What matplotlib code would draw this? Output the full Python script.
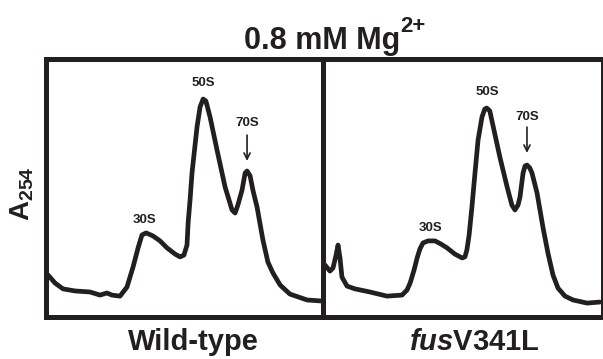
import matplotlib
matplotlib.use("Agg")
import matplotlib.pyplot as plt

plt.rcParams['font.family'] = ['Liberation Sans', 'DejaVu Sans']
plt.rcParams['mathtext.fontset'] = 'custom'
plt.rcParams['mathtext.rm'] = 'Liberation Sans:bold'
plt.rcParams['mathtext.bf'] = 'Liberation Sans:bold'
plt.rcParams['mathtext.it'] = 'Liberation Sans:bold:italic'

ink = '#231f20'

# gradient position (% of gradient) and A254 (arbitrary units)
wt_x = [0.9, 3.4, 6.3, 10.6, 16.0, 19.6, 22.1, 23.9, 26.8, 29.3, 31.5, 33.3, 34.7,
        36.2, 38.7, 41.2, 43.7, 46.6, 48.4, 49.8, 50.9, 51.3, 52.0, 52.7, 53.8,
        54.5, 55.6, 56.7, 57.7, 59.2, 61.7, 64.6, 67.1, 68.2, 69.2, 70.7, 71.8,
        72.5, 73.6, 74.6, 76.1, 78.2, 80.0, 81.8, 84.4, 87.9, 94.1, 99.5]
wt_y = [16.1, 13.0, 10.7, 9.9, 9.5, 8.3, 9.1, 8.3, 7.9, 11.4, 19.2, 26.6, 31.6,
        32.4, 31.2, 29.3, 26.6, 24.2, 23.1, 23.8, 27.7, 36.2, 45.2, 55.6, 66.5,
        73.4, 81.2, 84.3, 83.5, 77.3, 64.5, 50.2, 41.3, 40.1, 43.2, 49.0, 55.6,
        56.4, 54.5, 49.0, 42.4, 29.7, 21.1, 16.9, 12.2, 8.7, 6.4, 6.0]

mut_x = [0.5, 2.3, 3.4, 4.5, 5.2, 5.9, 6.6, 8.4, 11.3, 16.6, 22.7, 28.1, 29.9,
         31.0, 32.4, 33.5, 34.5, 35.6, 37.4, 39.9, 42.0, 44.2, 47.0, 49.6, 50.6,
         51.3, 52.1, 53.1, 54.2, 55.3, 56.7, 57.7, 58.4, 59.5, 60.6, 63.1, 65.7,
         67.4, 68.5, 69.6, 70.3, 71.4, 72.1, 72.8, 73.8, 74.6, 76.4, 78.5, 80.3,
         82.1, 83.9, 86.4, 89.3, 94.3, 98.9]
mut_y = [20.0, 17.6, 18.8, 23.8, 27.7, 22.7, 15.3, 11.8, 10.7, 9.5, 7.9, 8.3, 10.3,
         13.0, 18.0, 22.7, 26.2, 28.5, 29.3, 29.3, 28.1, 26.6, 24.2, 22.7, 23.1,
         25.8, 31.6, 42.4, 55.6, 68.4, 77.3, 80.4, 80.8, 79.7, 74.2, 61.8, 50.2,
         43.2, 41.3, 43.2, 46.3, 55.6, 58.3, 58.7, 57.6, 55.6, 47.9, 34.7, 24.6,
         16.1, 11.0, 7.9, 6.4, 5.2, 5.6]

peak_names = ['30S', '50S', '70S']
wt_label_pos = [(35.5, 37.4), (56.6, 90.5), (72.5, 75.0)]
mut_label_pos = [(38.1, 34.3), (58.5, 87.0), (72.8, 77.3)]
wt_arrow = (72.5, 70.3, 60.3)
mut_arrow = (72.8, 73.4, 63.4)

fig = plt.figure(figsize=(6.03, 3.59), dpi=100)
ax1 = fig.add_axes([45.5 / 603, 42.5 / 359, 278 / 603, 258 / 359])
ax2 = fig.add_axes([323.5 / 603, 42.5 / 359, 279.5 / 603, 258 / 359])

panels = [(ax1, wt_x, wt_y, wt_label_pos, wt_arrow),
          (ax2, mut_x, mut_y, mut_label_pos, mut_arrow)]
for ax, xs, ys, lpos, arr in panels:
    ax.plot(xs, ys, color=ink, lw=3.4, solid_joinstyle='round', solid_capstyle='round')
    ax.set_xlim(0, 100)
    ax.set_ylim(0, 100)
    ax.set_xticks([])
    ax.set_yticks([])
    for sp in ax.spines.values():
        sp.set_linewidth(3.6)
        sp.set_color(ink)
    for name, (lx, ly) in zip(peak_names, lpos):
        ax.text(lx, ly, name, ha='center', va='center', fontsize=9.5,
                fontweight='bold', color=ink)
    ax.annotate('', xy=(arr[0], arr[2]), xytext=(arr[0], arr[1]),
                arrowprops=dict(arrowstyle='->', lw=1.2, color=ink,
                                shrinkA=0, shrinkB=0, mutation_scale=11))

# title with a tight "2+" superscript
title = fig.text(322 / 603, 1 - 49 / 359, '0.8 mM Mg', ha='center',
                 va='baseline', fontsize=22, fontweight='bold', color=ink)
fig.text(0, 0, '')
plt.annotate('2+', xy=(1.0, 0.62), xycoords=title, ha='left', va='bottom',
             fontsize=16, fontweight='bold', color=ink, annotation_clip=False)

fig.text(193 / 603, 1 - 350 / 359, 'Wild-type', ha='center', va='baseline',
         fontsize=21, fontweight='bold', color=ink)
fig.text(474 / 603, 1 - 350 / 359, r'$\mathit{fus}$V341L', ha='center',
         va='baseline', fontsize=21, fontweight='bold', color=ink)
fig.text(22 / 603, 1 - 221 / 359, r'$\mathbf{A}_{\mathbf{254}}$', rotation=90,
         ha='center', va='bottom', fontsize=20, color=ink)

fig.savefig('out.png', dpi=100)
